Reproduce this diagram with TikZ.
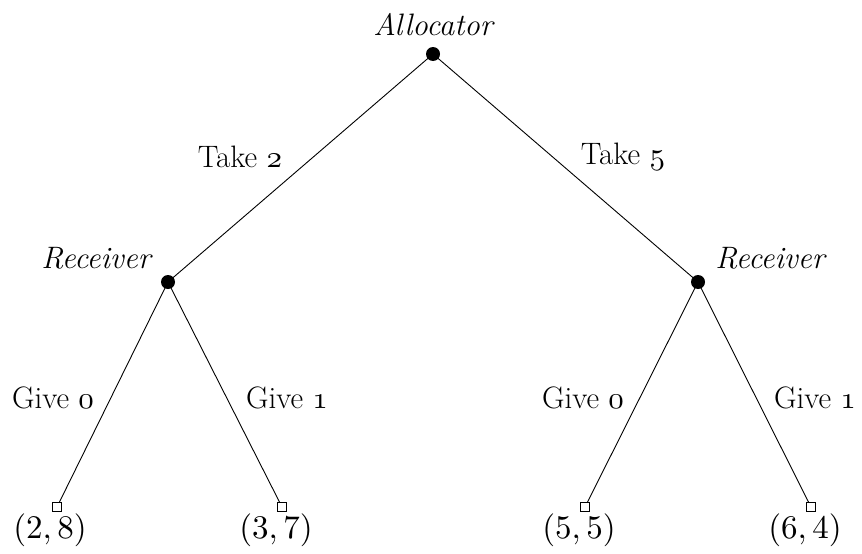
\documentclass[tikz,border=0pt]{standalone}
\usepackage{graphicx}
\usepackage{fontspec}
\newcommand\osn[1]{\scalebox{3.1}{\fontsize{10}{12}\fontencoding{OML}\fontfamily{cmm}\fontseries{m}\fontshape{it}\selectfont #1}}
\newcommand\pyf[1]{\scalebox{3.3}{\fontsize{10}{12}\selectfont $#1$}}
\begin{document}
\begin{tikzpicture}[x=1pt,y=-1pt,
  dec/.style={circle,fill=black,inner sep=0pt,minimum size=14pt},
  leaf/.style={draw,rectangle,line width=0.8pt,fill=white,inner sep=0pt,minimum size=9pt},
  lbl/.style={font=\fontsize{31}{36}\selectfont},
  who/.style={font=\fontsize{31}{36}\selectfont\itshape},
  edge/.style={line width=0.9pt}]
\useasboundingbox (0,0) rectangle (862,554);
\node[dec] (r) at (433,54) {};
\node[dec] (a) at (168,282) {};
\node[dec] (b) at (698,282) {};
\node[leaf] (l1) at (57,507) {};
\node[leaf] (l2) at (282,507) {};
\node[leaf] (l3) at (585,507) {};
\node[leaf] (l4) at (811,507) {};
\draw[edge] (r.center) -- (a.center);
\draw[edge] (r.center) -- (b.center);
\draw[edge] (a.center) -- (l1);
\draw[edge] (a.center) -- (l2);
\draw[edge] (b.center) -- (l3);
\draw[edge] (b.center) -- (l4);
\node[who] (ta) at (433,25) {Allocator};
\node[who] (tb) at (96,258) {Receiver};
\node[who] (tc) at (770,258) {Receiver};
\node[lbl] (e1) at (240,157) {Take \osn{2}};
\node[lbl] (e2) at (623,157) {Take \osn{5}};
\node[lbl] (e3) at (53,398) {Give \osn{0}};
\node[lbl] (e4) at (287,398) {Give \osn{1}};
\node[lbl] (e5) at (583,398) {Give \osn{0}};
\node[lbl] (e6) at (815,398) {Give \osn{1}};
\node (p1) at (50,530) {\pyf{(2,8)}};
\node (p2) at (276,530) {\pyf{(3,7)}};
\node (p3) at (579,530) {\pyf{(5,5)}};
\node (p4) at (805,530) {\pyf{(6,4)}};
\end{tikzpicture}
\end{document}
